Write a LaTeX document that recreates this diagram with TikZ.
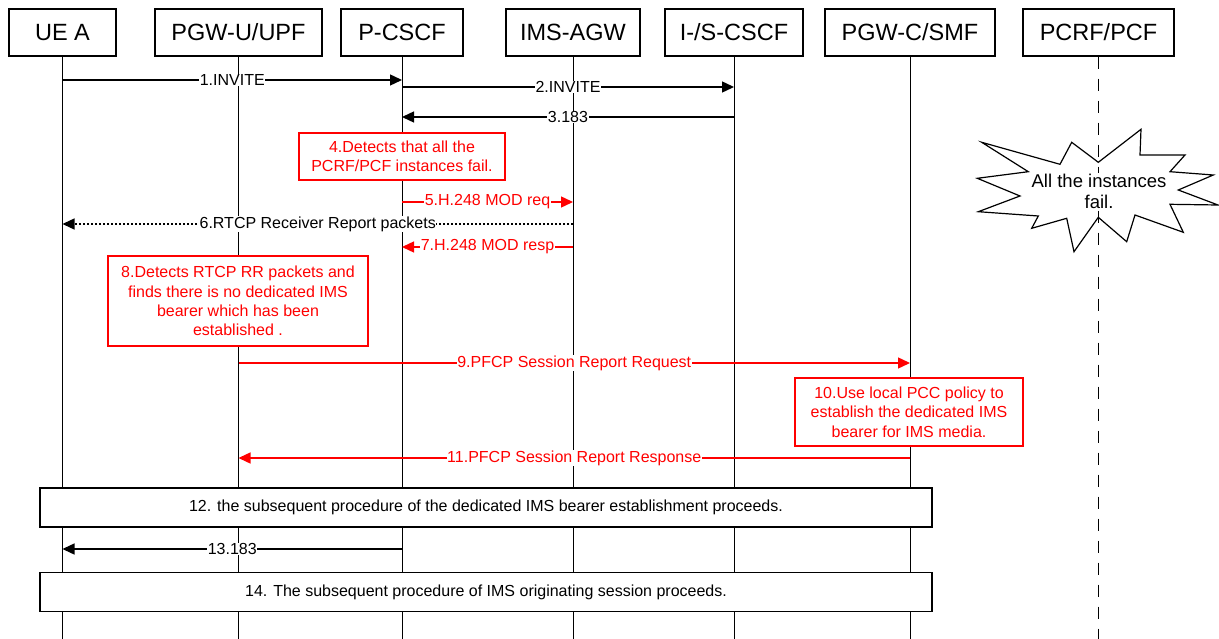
\documentclass[tikz,border=0pt]{standalone}
\usepackage{fontspec}
\setmainfont{Liberation Sans}
\usetikzlibrary{arrows.meta}
\usetikzlibrary{positioning}

\begin{document}
\begin{tikzpicture}[x=1pt,y=-1pt,
  entity/.style={draw,line width=1.2pt,fill=white,minimum height=47pt,inner sep=0pt,font=\fontsize{23.5}{28}\selectfont},
  life/.style={line width=0.9pt},
  msg/.style={line width=1.4pt,-{Triangle[length=12pt,width=11pt]}},
  redmsg/.style={msg,red},
  lbl/.style={midway,fill=white,inner sep=0.5pt,font=\fontsize{16}{19}\selectfont},
  notebox/.style={draw=red,line width=1.4pt,text=red,fill=white,align=center,inner sep=0pt,font=\fontsize{16}{19.3}\selectfont},
  phasebox/.style={draw,line width=1.4pt,fill=white,inner sep=0pt,minimum width=892pt,minimum height=39pt,font=\fontsize{16}{19}\selectfont}]
  \useasboundingbox (0,0) rectangle (1219,639);

  % entities
  \node[entity,minimum width=107pt] (ue) at (62.5,32.5) {UE A};
  \node[entity,minimum width=167pt] (upf) at (238.5,32.5) {PGW-U/UPF};
  \node[entity,minimum width=122pt] (pcscf) at (402,32.5) {P-CSCF};
  \node[entity,minimum width=134pt] (agw) at (573,32.5) {IMS-AGW};
  \node[entity,minimum width=138pt] (scscf) at (734,32.5) {I-/S-CSCF};
  \node[entity,minimum width=170pt] (smf) at (910,32.5) {PGW-C/SMF};
  \node[entity,minimum width=151pt] (pcf) at (1098.5,32.5) {PCRF/PCF};

  \coordinate (ueEnd) at (ue |- 0,639);
  \coordinate (upfEnd) at (upf |- 0,639);
  \coordinate (pcscfEnd) at (pcscf |- 0,639);
  \coordinate (agwEnd) at (agw |- 0,639);
  \coordinate (scscfEnd) at (scscf |- 0,639);
  \coordinate (smfEnd) at (smf |- 0,639);
  \coordinate (pcfEnd) at (pcf |- 0,639);

  \draw[life](ue)--(ueEnd);
  \draw[life](upf)--(upfEnd);
  \draw[life](pcscf)--(pcscfEnd);
  \draw[life](agw)--(agwEnd);
  \draw[life](scscf)--(scscfEnd);
  \draw[life](smf)--(smfEnd);
  \draw[line width=1.5pt,dash pattern=on 12pt off 10pt](pcf.south)--(pcfEnd);

  % messages
  \coordinate (ue1) at (ue |- 0,80);
  \coordinate (pcscf1) at (pcscf |- 0,80);
  \coordinate (pcscf2) at (pcscf |- 0,87);
  \coordinate (scscf2) at (scscf |- 0,87);
  \coordinate (pcscf3) at (pcscf |- 0,117);
  \coordinate (scscf3) at (scscf |- 0,117);
  \coordinate (pcscf5) at (pcscf |- 0,202);
  \coordinate (agw5) at (agw |- 0,202);
  \coordinate (ue6) at (ue |- 0,224);
  \coordinate (agw6) at (agw |- 0,224);
  \coordinate (pcscf7) at (pcscf |- 0,247);
  \coordinate (agw7) at (agw |- 0,247);
  \coordinate (upf9) at (upf |- 0,363);
  \coordinate (smf9) at (smf |- 0,363);
  \coordinate (upf11) at (upf |- 0,458);
  \coordinate (smf11) at (smf |- 0,458);
  \coordinate (ue13) at (ue |- 0,549);
  \coordinate (pcscf13) at (pcscf |- 0,549);

  \draw[msg](ue1)--node[lbl]{1.INVITE}(pcscf1);
  \draw[msg](pcscf2)--node[lbl]{2.INVITE}(scscf2);
  \draw[msg](scscf3)--node[lbl]{3.183}(pcscf3);
  \draw[redmsg](pcscf5)--node[lbl]{5.H.248 MOD req}(agw5);
  \draw[msg,line width=1.3pt,dash pattern=on 2pt off 2pt](agw6)--node[lbl]{6.RTCP Receiver Report packets}(ue6);
  \draw[redmsg](agw7)--node[lbl]{7.H.248 MOD resp}(pcscf7);
  \draw[redmsg](upf9)--node[lbl]{9.PFCP Session Report Request}(smf9);
  \draw[redmsg](smf11)--node[lbl]{11.PFCP Session Report Response}(upf11);
  \draw[msg](pcscf13)--node[lbl]{13.183}(ue13);

  % notes
  \node[notebox,minimum width=206pt,minimum height=47pt] (n4) at (402,156.5) {4.Detects that all the\\PCRF/PCF instances fail.};
  \node[notebox,minimum width=260pt,minimum height=90pt] (n8) at (238,301) {8.Detects RTCP RR packets and\\finds there is no dedicated IMS\\bearer which has been\\established .};
  \node[notebox,minimum width=228pt,minimum height=68pt] (n10) at (909,412) {10.Use local PCC policy to\\establish the dedicated IMS\\bearer for IMS media.};

  \node[phasebox] (p12) at (486,507.5) {12. the subsequent procedure of the dedicated IMS bearer establishment proceeds.};
  \node[phasebox] (p14) at (486,592) {14. The subsequent procedure of IMS originating session proceeds.};

  % failure burst
  \draw[line width=1.2pt,line join=miter](981.7,142.3)--(1060,164.3)--(1071.7,142.3)--(1098.3,162.3)--(1141,129.3)--(1140,155)--(1185,155)--(1170,171.7)--(1213.3,175)--(1178.3,190)--(1218,205)--(1170,204.3)--(1183.3,232.3)--(1135,215)--(1126.7,241.7)--(1098.3,217.3)--(1074,251.7)--(1066.7,218.3)--(1031.7,228.3)--(1038.3,216)--(978.3,211.7)--(1020,196)--(977.3,178.3)--(1028.3,171.7)--cycle;
  \node[fill=white,inner sep=1pt,align=center,font=\fontsize{18.5}{21}\selectfont] (burst) at (1099,191) {All the instances\\fail.};
\end{tikzpicture}
\end{document}
